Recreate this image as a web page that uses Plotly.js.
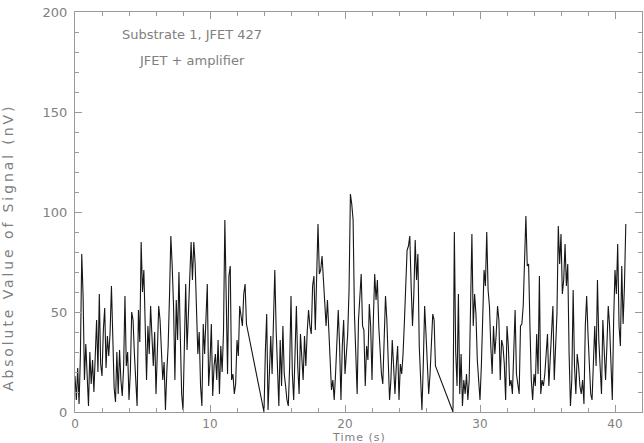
<!DOCTYPE html>
<html>
<head>
<meta charset="utf-8">
<script src="https://cdn.plot.ly/plotly-3.0.1.min.js"></script>
<style>html,body{margin:0;padding:0;background:#fff;}#chart{width:644px;height:443px;}</style>
</head>
<body>
<div id="chart"></div>
<script>
// Sampling: three recorded segments, 0.1 s per sample
const segmentStarts = [0.0, 14.0, 28.0];
const sampleStep = 0.1;

// Absolute value of signal (nV), segment 1 (t = 0.0 .. 12.7 s)
const signalSeg1 = [
  18, 6, 22, 4, 28, 79, 58, 16, 34, 20,
  3, 30, 14, 26, 10, 28, 46, 20, 59, 24,
  18, 41, 52, 22, 38, 28, 40, 63, 36, 12,
  5, 30, 9, 31, 16, 8, 22, 58, 23, 30,
  6, 20, 50, 46, 29, 18, 3, 51, 35, 85,
  60, 71, 36, 16, 43, 29, 53, 36, 23, 40,
  9, 30, 53, 46, 29, 16, 25, 1, 20, 33,
  58, 88, 73, 53, 16, 56, 36, 70, 38, 9,
  1, 30, 64, 31, 53, 69, 85, 66, 85, 74,
  53, 29, 40, 13, 3, 44, 29, 43, 64, 13,
  25, 44, 8, 23, 29, 16, 36, 9, 33, 20,
  40, 96, 61, 19, 68, 73, 16, 19, 9, 14,
  36, 28, 53, 49, 43, 59, 64, 44
];

// Segment 2 (t = 14.0 .. 26.7 s)
const signalSeg2 = [
  0, 30, 49, 1, 23, 38, 19, 46, 71, 41,
  16, 3, 36, 13, 43, 19, 13, 6, 3, 23,
  58, 19, 6, 36, 53, 23, 9, 39, 29, 16,
  38, 23, 40, 51, 43, 39, 63, 68, 41, 66,
  94, 69, 71, 78, 66, 58, 43, 56, 39, 29,
  11, 16, 6, 19, 33, 51, 33, 6, 33, 46,
  19, 29, 39, 61, 109, 104, 96, 49, 33, 9,
  46, 61, 69, 43, 41, 13, 33, 26, 54, 43,
  16, 46, 69, 56, 66, 43, 29, 19, 14, 36,
  58, 46, 29, 6, 16, 36, 23, 9, 23, 33,
  6, 24, 19, 29, 45, 63, 81, 83, 88, 63,
  43, 59, 86, 66, 79, 33, 19, 1, 24, 53,
  39, 23, 9, 19, 39, 49, 46, 23
];

// Segment 3 (t = 28.0 .. 40.8 s)
const signalSeg3 = [
  0, 90, 30, 13, 59, 9, 29, 3, 16, 9,
  19, 6, 16, 63, 89, 43, 59, 49, 26, 16,
  6, 23, 49, 71, 63, 90, 61, 53, 33, 19,
  43, 29, 39, 53, 46, 16, 36, 33, 24, 6,
  43, 33, 13, 16, 9, 36, 51, 19, 13, 9,
  43, 44, 53, 81, 98, 73, 74, 43, 16, 6,
  19, 13, 39, 19, 68, 9, 16, 13, 19, 29,
  39, 13, 26, 46, 53, 16, 36, 49, 93, 74,
  89, 59, 66, 84, 63, 74, 29, 3, 16, 61,
  23, 9, 29, 23, 13, 9, 16, 4, 43, 58,
  39, 23, 9, 6, 26, 43, 23, 66, 36, 23,
  9, 46, 29, 16, 33, 53, 43, 23, 6, 46,
  71, 59, 84, 43, 33, 73, 44, 63, 94
];

const xTickVals = [0, 10, 20, 30, 40];
const yTickVals = [0, 50, 100, 150, 200];
const labelLines = ["Substrate 1, JFET 427", "JFET + amplifier"];
const xTitle = "Time (s)";
const yTitle = "Absolute Value of Signal (nV)";

// Build the time base of the recorded samples
const segments = [signalSeg1, signalSeg2, signalSeg3];
const times = [], values = [];
segments.forEach((seg, k) => {
  seg.forEach((v, i) => {
    times.push(Math.round((segmentStarts[k] + i * sampleStep) * 100) / 100);
    values.push(v);
  });
});

const axisGray = '#9a9a9a';
const textGray = '#808080';

const trace = {
  x: times, y: values, type: 'scatter', mode: 'lines',
  line: {color: '#161616', width: 1.1}, hoverinfo: 'skip'
};

const commonAxis = {
  showline: true, linecolor: axisGray, linewidth: 1, mirror: 'ticks',
  ticks: 'inside', ticklen: 7, tickwidth: 1, tickcolor: axisGray,
  showgrid: false, zeroline: false,
  minor: {ticks: 'inside', ticklen: 4, tickwidth: 1, tickcolor: axisGray, showgrid: false}
};

const layout = {
  width: 644, height: 443,
  margin: {l: 75, r: 2, t: 12, b: 31, pad: 0},
  paper_bgcolor: '#ffffff', plot_bgcolor: '#ffffff',
  showlegend: false,
  xaxis: Object.assign({}, commonAxis, {
    range: [0, 42], tickvals: xTickVals, ticktext: xTickVals.map(String),
    tickfont: {family: 'DejaVu Sans', size: 12, color: textGray},
    minor: Object.assign({}, commonAxis.minor, {dtick: 2, tick0: 0}),
    ticklabelstandoff: 1
  }),
  yaxis: Object.assign({}, commonAxis, {
    range: [0, 200], tickvals: yTickVals, ticktext: yTickVals.map(String),
    tickfont: {family: 'DejaVu Sans', size: 13, color: textGray},
    minor: Object.assign({}, commonAxis.minor, {dtick: 10, tick0: 0}),
    ticklabelstandoff: 4
  }),
  annotations: [
    {xref: 'x', yref: 'y', x: 8.7, y: 189, text: labelLines[0], showarrow: false,
     xanchor: 'center', yanchor: 'middle', font: {family: 'DejaVu Sans', size: 13, color: textGray}},
    {xref: 'x', yref: 'y', x: 8.7, y: 176, text: labelLines[1], showarrow: false,
     xanchor: 'center', yanchor: 'middle', font: {family: 'DejaVu Sans', size: 13, color: textGray}},
    {xref: 'paper', yref: 'paper', x: -0.118, y: 0.41, text: '<span style="letter-spacing:2.9px">' + yTitle + '</span>',
     showarrow: false, textangle: -90, xanchor: 'center', yanchor: 'middle',
     font: {family: 'DejaVu Sans', size: 14, color: textGray}},
    {xref: 'paper', yref: 'paper', x: 0.5, y: -0.0815, text: '<span style="letter-spacing:1px">' + xTitle + '</span>',
     showarrow: false, xanchor: 'center', yanchor: 'bottom', borderpad: 0,
     font: {family: 'DejaVu Sans', size: 11, color: textGray}}
  ]
};

Plotly.newPlot('chart', [trace], layout, {staticPlot: true, displayModeBar: false});
</script>
</body>
</html>
